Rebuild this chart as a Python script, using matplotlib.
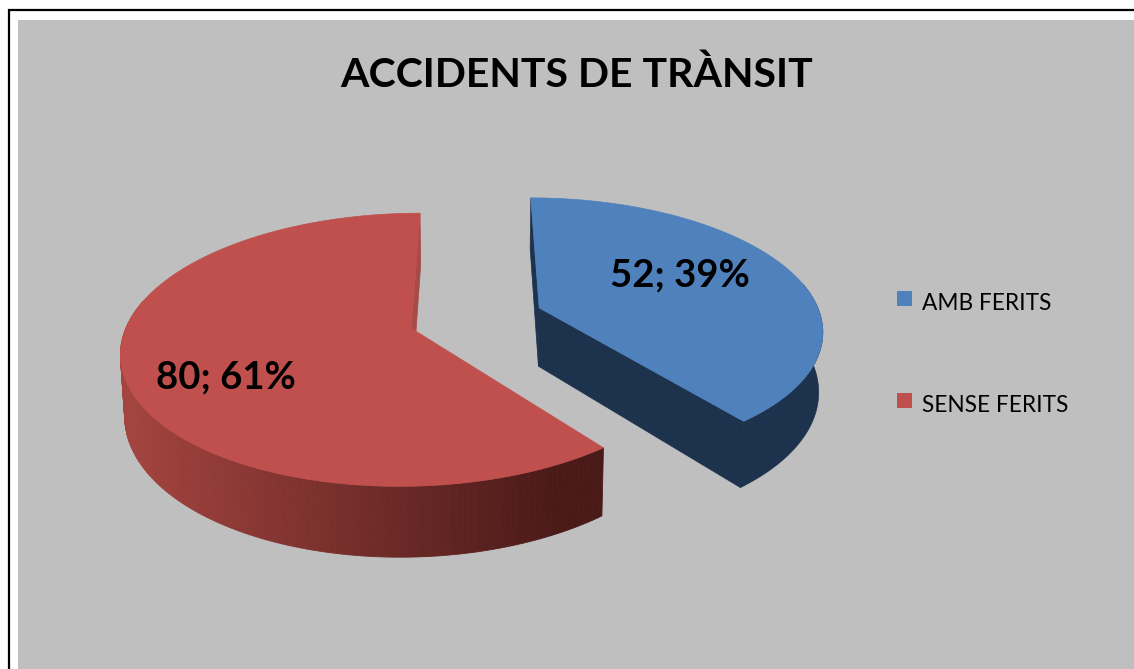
import numpy as np
from matplotlib import pyplot as plt
from matplotlib.patches import Polygon, Rectangle

title = 'ACCIDENTS DE TRÀNSIT'
categories = ['AMB FERITS', 'SENSE FERITS']
values = [52, 80]
top_colors = ['#4F81BD', '#C0504D']

plt.rcParams['font.family'] = ['Lato', 'DejaVu Sans']

# view of the exploded pie, in pixels of the picture
cx, cy = 476, 318
rx, ry = 282, 130
persp = 0.155
explode = 0.24
depth = 59


def project(u, v, z=0):
    w = 1 / (1 + persp * v)
    sx = cx + rx * u * w * (1 - 0.012 * z)
    sy = cy - ry * v * w + depth * z * w
    return np.column_stack([sx, sy])


def slice_points(a0, a1, offset, z=0):
    t = np.radians(np.linspace(a0, a1, 200))
    mid = np.radians((a0 + a1) / 2)
    ou, ov = offset * np.sin(mid), offset * np.cos(mid)
    arc = project(ou + np.sin(t), ov + np.cos(t), z)
    apex = project(np.array([ou]), np.array([ov]), z)
    return apex, arc, t


def mix(c0, c1, f):
    c0 = np.array(plt.matplotlib.colors.to_rgb(c0))
    c1 = np.array(plt.matplotlib.colors.to_rgb(c1))
    return tuple(c0 + (c1 - c0) * f)


fig = plt.figure(figsize=(11.34, 6.69), dpi=100)
ax = fig.add_axes([0, 0, 1, 1])
ax.set_xlim(0, 1134)
ax.set_ylim(669, 0)
ax.axis('off')

# frame and plot area
ax.add_patch(Rectangle((8.5, 10), 1130, 670, fc='white', ec='black', lw=1.6))
ax.add_patch(Rectangle((18, 20), 1120, 655, fc='#BFBFBF', ec='none'))

angles = np.cumsum([0] + values) / sum(values) * 360

# blue slice
a0, a1 = angles[0], angles[1]
apex, arc, t = slice_points(a0, a1, explode)
apex2, arc2, t = slice_points(a0, a1, explode, 1)
wall = '#1D324C'
front = np.cos(t) < 0.2  # only the near part of the rim can be seen
ax.add_patch(Polygon(np.vstack([apex, arc[:1], arc2[:1], apex2]), fc=wall, ec=wall, lw=0.5))
ax.add_patch(Polygon(np.vstack([apex, arc[-1:], arc2[-1:], apex2]), fc=wall, ec=wall, lw=0.5))
ax.add_patch(Polygon(np.vstack([arc[front], arc2[front][::-1]]), fc=wall, ec=wall, lw=0.5))
ax.add_patch(Polygon(np.vstack([apex, arc]), fc=top_colors[0], ec=top_colors[0], lw=0.5))

# red slice
a0, a1 = angles[1], angles[2]
apex, arc, t = slice_points(a0, a1, explode)
apex2, arc2, t = slice_points(a0, a1, explode, 1)
side = '#A84A47'
ax.add_patch(Polygon(np.vstack([apex, arc[-1:], arc2[-1:], apex2]), fc=side, ec=side, lw=0.5))
for i in range(len(arc) - 1):
    if np.cos(t[i]) > 0.2:
        continue
    f = np.clip((arc[i, 0] - 125) / (560 - 125), 0, 1)
    col = mix('#A4443F', '#4A1A18', f)
    quad = np.vstack([arc[i], arc[i + 1], arc2[i + 1], arc2[i]])
    ax.add_patch(Polygon(quad, fc=col, ec=col, lw=0.6))
ax.add_patch(Polygon(np.vstack([apex, arc]), fc=top_colors[1], ec=top_colors[1], lw=0.5))

# texts
ax.text(577, 75, title, ha='center', va='center', fontsize=29.5, fontweight='bold', color='black')
total = sum(values)
label_pos = [(680, 275), (226, 377)]
for val, (x, y) in zip(values, label_pos):
    ax.text(x, y, '%d; %d%%' % (val, round(100 * val / total)), ha='center', va='center',
            fontsize=27.5, fontweight='bold', color='black')

# legend
legend_y = [303, 405]
for name, col, y in zip(categories, top_colors, legend_y):
    ax.add_patch(Rectangle((897, y - 12), 15, 15, fc=col, ec='none'))
    ax.text(922, y, name, ha='left', va='center', fontsize=16.3, color='black')

fig.savefig('out.png', dpi=100)
